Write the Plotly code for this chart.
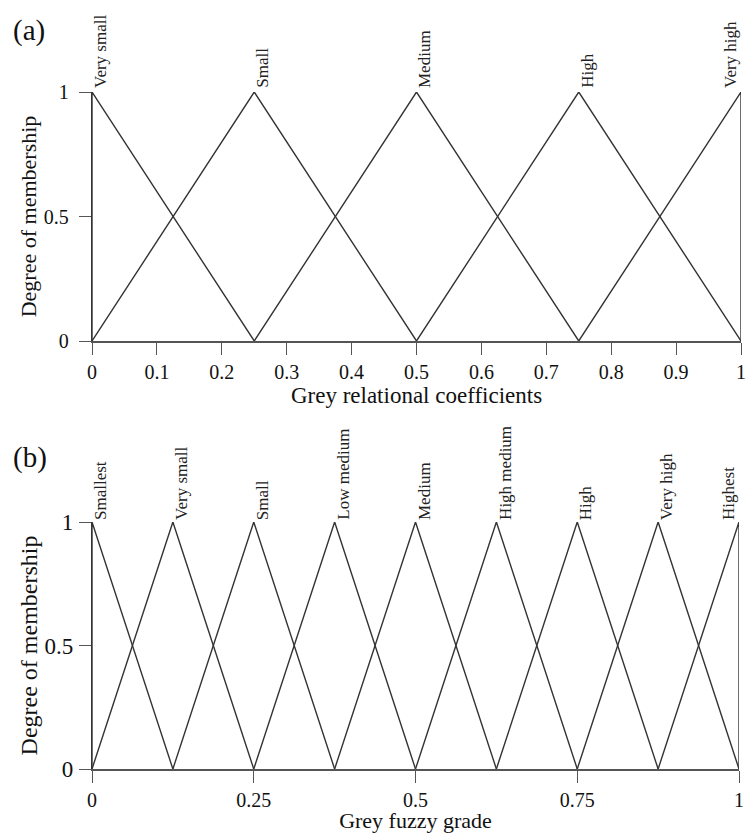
import plotly.graph_objects as go

# ---- data ----
labels_a = ["Very small", "Small", "Medium", "High", "Very high"]
centers_a = [0.0, 0.25, 0.5, 0.75, 1.0]
halfwidth_a = 0.25
xticks_a = [0, 0.1, 0.2, 0.3, 0.4, 0.5, 0.6, 0.7, 0.8, 0.9, 1]
xticklabels_a = ["0", "0.1", "0.2", "0.3", "0.4", "0.5", "0.6", "0.7", "0.8", "0.9", "1"]

labels_b = ["Smallest", "Very small", "Small", "Low medium", "Medium",
            "High medium", "High", "Very high", "Highest"]
centers_b = [0.0, 0.125, 0.25, 0.375, 0.5, 0.625, 0.75, 0.875, 1.0]
halfwidth_b = 0.125
xticks_b = [0, 0.25, 0.5, 0.75, 1]
xticklabels_b = ["0", "0.25", "0.5", "0.75", "1"]

yticks = [0, 0.5, 1]
yticklabels = ["0", "0.5", "1"]

FONT = "Liberation Serif"
LINE = "#333333"
AXIS = "#555555"

W, H = 745, 833


def fx(px):
    return px / W


def fy(py):
    return (H - py) / H


fig = go.Figure()


def add_set(centers, hw, xa, ya):
    for c in centers:
        xs = [max(c - hw, 0.0), c, min(c + hw, 1.0)]
        ys = [0, 1, 0]
        fig.add_trace(go.Scatter(x=xs, y=ys, mode="lines", xaxis=xa, yaxis=ya,
                                 line=dict(color=LINE, width=1.4),
                                 cliponaxis=False, showlegend=False,
                                 hoverinfo="skip"))


add_set(centers_a, halfwidth_a, "x", "y")
add_set(centers_b, halfwidth_b, "x2", "y2")


def peak_label(lab, c, xr, yr, ysh):
    at_right = c >= 1.0
    return dict(x=c, y=1, xref=xr, yref=yr, text=lab, showarrow=False,
                textangle=-90, xanchor="right" if at_right else "left",
                yanchor="bottom", xshift=1 if at_right else -3, yshift=ysh,
                font=dict(family=FONT, size=17, color="#222"))


annotations = []
for lab, c in zip(labels_a, centers_a):
    annotations.append(peak_label(lab, c, "x", "y", 2))
for lab, c in zip(labels_b, centers_b):
    annotations.append(peak_label(lab, c, "x2", "y2", 0))

annotations.append(dict(x=fx(11), y=fy(30), xref="paper", yref="paper",
                        text="(a)", showarrow=False, xanchor="left", yanchor="middle",
                        font=dict(family=FONT, size=29, color="#111")))
annotations.append(dict(x=fx(11), y=fy(457), xref="paper", yref="paper",
                        text="(b)", showarrow=False, xanchor="left", yanchor="middle",
                        font=dict(family=FONT, size=29, color="#111")))

common_x = dict(range=[0, 1], showgrid=False, zeroline=False, showline=True,
                linecolor=AXIS, linewidth=1.5, ticks="outside", ticklen=12,
                tickwidth=1.3, tickcolor=AXIS, fixedrange=True, automargin=False,
                ticklabeloverflow="allow")
common_y = dict(range=[0, 1], showgrid=False, zeroline=False, showline=True,
                linecolor=LINE, linewidth=1.4, ticks="outside", ticklen=12,
                tickwidth=1.3, tickcolor=AXIS, tickvals=yticks, ticktext=yticklabels,
                fixedrange=True, automargin=False)

fig.update_layout(
    width=W, height=H,
    margin=dict(l=0, r=0, t=0, b=0, pad=0),
    paper_bgcolor="white", plot_bgcolor="white",
    font=dict(family=FONT, color="#111"),
    xaxis=dict(**common_x, domain=[fx(92), fx(741)], anchor="y",
               tickvals=xticks_a, ticktext=xticklabels_a,
               tickfont=dict(family=FONT, size=20, color="#111"),
               title=dict(text="Grey relational coefficients", standoff=0,
                          font=dict(family=FONT, size=23, color="#111"))),
    yaxis=dict(**common_y, domain=[fy(341), fy(92)], anchor="x",
               ticklabelstandoff=6,
               tickfont=dict(family=FONT, size=20, color="#111"),
               title=dict(text="Degree of membership", standoff=1,
                          font=dict(family=FONT, size=22, color="#111"))),
    xaxis2=dict(**common_x, domain=[fx(92), fx(739)], anchor="y2",
                tickvals=xticks_b, ticktext=xticklabels_b,
                tickfont=dict(family=FONT, size=20, color="#111"),
                title=dict(text="Grey fuzzy grade", standoff=5,
                           font=dict(family=FONT, size=22, color="#111"))),
    yaxis2=dict(**common_y, domain=[fy(769), fy(522)], anchor="x2",
                ticklabelstandoff=1,
                tickfont=dict(family=FONT, size=23, color="#111"),
                title=dict(text="Degree of membership", standoff=0,
                           font=dict(family=FONT, size=24, color="#111"))),
    annotations=annotations,
)

fig.write_html(
    "out.html",
    config={"displayModeBar": False},
    post_script="document.documentElement.style.overflow='hidden';"
                "document.body.style.margin='0';document.body.style.overflow='hidden';",
)
